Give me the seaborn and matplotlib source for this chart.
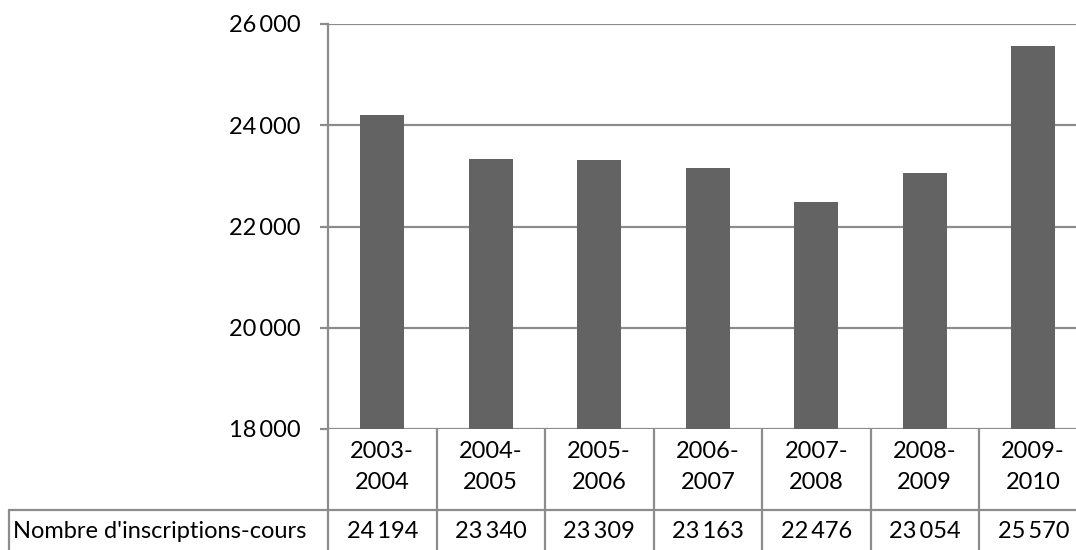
import matplotlib
matplotlib.use("Agg")
import matplotlib.pyplot as plt
import matplotlib.transforms as mtransforms
from matplotlib.lines import Line2D
import seaborn as sns
import pandas as pd

categories = ["2003-\n2004", "2004-\n2005", "2005-\n2006", "2006-\n2007",
              "2007-\n2008", "2008-\n2009", "2009-\n2010"]
values = [24194, 23340, 23309, 23163, 22476, 23054, 25570]
series_name = "Nombre d'inscriptions-cours"
y_ticks = [18000, 20000, 22000, 24000, 26000]

sns.set_theme(style="white")
plt.rcParams['font.family'] = ['Lato', 'DejaVu Sans']

W, H = 1076, 550
fig = plt.figure(figsize=(W / 100, H / 100), dpi=100)

GRID = "#8c8c8c"
BAR = "#636363"
FS = 17

# axes in pixel geometry
x0, x1 = 328, 1087.5
ytop, ybot = 24, 429
ax = fig.add_axes([x0 / W, (H - ybot) / H, (x1 - x0) / W, (ybot - ytop) / H])

df = pd.DataFrame({"cat": categories, "val": values})
sns.barplot(data=df, x="cat", y="val", color=BAR, saturation=1, width=0.405, ax=ax, zorder=3)
for p in ax.patches:
    p.set_edgecolor("none")

ax.set_xlim(-0.5, len(categories) - 0.5)
ax.set_ylim(y_ticks[0], y_ticks[-1])
ax.set_yticks(y_ticks)
fmt = lambda v: f"{v:,}".replace(",", "\u2009")
ax.set_yticklabels([fmt(v) for v in y_ticks], fontsize=FS, color="black")
ax.set_xticks([])
ax.set_xlabel("")
ax.set_ylabel("")
for t in y_ticks:
    ax.axhline(t, color=GRID, lw=1.6, zorder=1)
for s in ["top", "right", "bottom"]:
    ax.spines[s].set_visible(False)
ax.spines["left"].set_color(GRID)
ax.spines["left"].set_linewidth(1.6)
ax.tick_params(axis="y", length=6, width=1.6, color=GRID, pad=14, left=True)

# data table below the axes
blend = mtransforms.blended_transform_factory(ax.transData, fig.transFigure)
fy = lambda py: (H - py) / H
row1_bot = 510
n = len(categories)
for k in range(n + 1):
    xb = -0.5 + k
    fig.add_artist(Line2D([xb, xb], [fy(ybot), fy(H + 5)], transform=blend,
                          color=GRID, lw=1.6, clip_on=False))
fig.add_artist(Line2D([9 / W, 1.0], [fy(row1_bot), fy(row1_bot)],
                      transform=fig.transFigure, color=GRID, lw=1.6))
fig.add_artist(Line2D([9 / W, 9 / W], [fy(row1_bot), fy(H + 5)],
                      transform=fig.transFigure, color=GRID, lw=1.6))

for i, (c, v) in enumerate(zip(categories, values)):
    fig.text(i, fy(467), c, transform=blend, ha="center", va="center",
             fontsize=FS, linespacing=1.55, color="black")
    fig.text(i, fy(531), fmt(v), transform=blend, ha="center", va="center",
             fontsize=FS, color="black")
fig.text(13 / W, fy(531), series_name, ha="left", va="center", fontsize=FS, color="black")

fig.savefig("out.png", dpi=100)
